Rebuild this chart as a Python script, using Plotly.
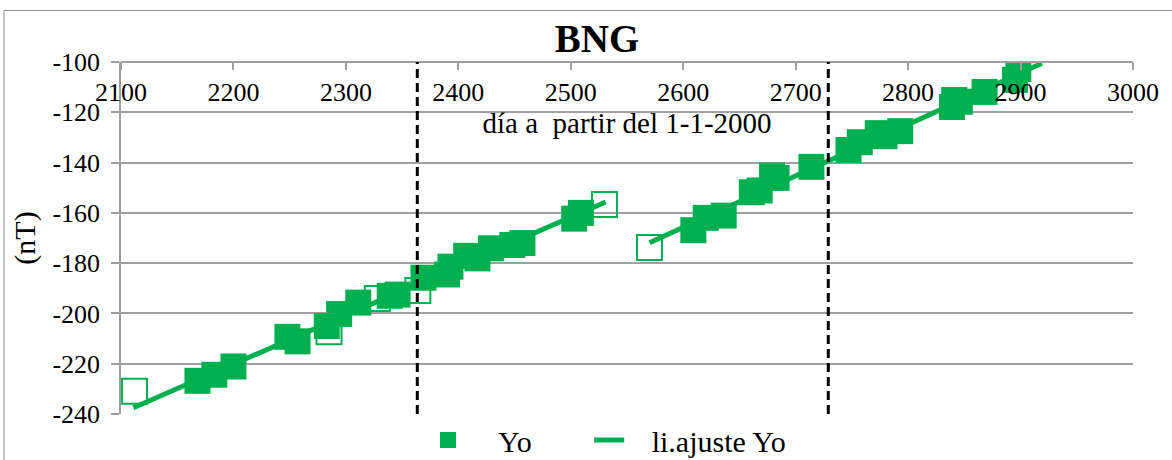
import plotly.graph_objects as go

# Observed values "Yo" (filled squares)
yo_day = [2168, 2183, 2200, 2248, 2257, 2283, 2294, 2311, 2339, 2346,
          2369, 2390, 2393, 2407, 2417, 2429, 2448, 2457, 2503, 2509,
          2609, 2620, 2636, 2661, 2668, 2679, 2683, 2714, 2747, 2757,
          2773, 2779, 2793, 2839, 2841, 2846, 2868, 2895, 2898]
yo_nt = [-226.8, -224.4, -221.1, -209.3, -211.1, -205.0, -200.2, -195.7, -193.0, -192.5,
         -185.8, -184.5, -181.4, -177.1, -178.1, -174.1, -172.8, -172.0, -162.3, -160.0,
         -166.9, -162.0, -161.1, -151.8, -151.1, -145.2, -146.1, -141.7, -135.0, -131.9,
         -128.3, -129.5, -127.5, -117.9, -115.1, -115.8, -111.9, -107.1, -102.8]

# Rejected values (hollow squares)
out_day = [2112, 2285, 2328, 2364, 2530, 2570]
out_nt = [-231.0, -207.3, -194.1, -190.9, -156.7, -173.8]

# Fitted line "li.ajuste Yo" (two segments)
fit_day = [2111, 2531, None, 2570, 2919]
fit_nt = [-237.5, -155.7, None, -171.9, -100.5]

# Vertical dashed break lines (days)
breaks = [2363.5, 2729]

x_ticks = [2100, 2200, 2300, 2400, 2500, 2600, 2700, 2800, 2900, 3000]
x_labels = ["2100", "2200", "2300", "2400", "2500", "2600", "2700", "2800", "2900", "3000"]
y_ticks = [-100, -120, -140, -160, -180, -200, -220, -240]
y_labels = ["-100", "-120", "-140", "-160", "-180", "-200", "-220", "-240"]

GREEN = "#00B050"
GRID = "#A0A0A0"
FONT = "Liberation Serif"
NB = "\u00a0"

fig = go.Figure()

fig.add_trace(go.Scatter(
    x=out_day, y=out_nt, mode="markers", showlegend=False,
    marker=dict(symbol="square-open", size=25, color=GREEN, line=dict(width=2, color=GREEN)),
))
fig.add_trace(go.Scatter(
    x=yo_day, y=yo_nt, mode="markers", name=NB * 4 + "Yo" + NB * 7,
    marker=dict(symbol="square", size=26, color=GREEN),
))
fig.add_trace(go.Scatter(
    x=fit_day, y=fit_nt, mode="lines", name=NB * 3 + "li.ajuste Yo",
    line=dict(color=GREEN, width=5), connectgaps=False,
))

for b in breaks:
    fig.add_shape(type="line", xref="x", yref="paper", x0=b, x1=b, y0=0, y1=1,
                  line=dict(color="black", width=3, dash="9px,5px"), layer="above")

# outer chart border
fig.add_shape(type="rect", xref="paper", yref="paper",
              x0=(4 - 121) / 1012, x1=(1190 - 121) / 1012,
              y0=(417 - 480) / 355, y1=1 + (62 - 10) / 355,
              line=dict(color="#8C8C8C", width=1), layer="below")

fig.update_layout(
    width=1172, height=460,
    margin=dict(l=121, r=39, t=62, b=43),
    paper_bgcolor="white", plot_bgcolor="white",
    font=dict(family=FONT, color="black"),
    title=dict(text="<b>BNG</b>", x=597 / 1172, xref="container", xanchor="center",
               y=1 - 38 / 460, yref="container", yanchor="middle",
               font=dict(family=FONT, size=39, color="black")),
    showlegend=True,
    legend=dict(orientation="h", x=(428 - 121) / 1012, xanchor="left",
                y=1 - 440 / 460, yref="container", yanchor="middle",
                font=dict(family=FONT, size=30, color="black"),
                itemwidth=30, bgcolor="rgba(0,0,0,0)"),
    xaxis=dict(range=[2100, 3000], tickvals=x_ticks, ticktext=x_labels,
               side="bottom", anchor="free", position=1.0, automargin=False,
               ticks="outside", ticklen=7, tickcolor=GRID, tickwidth=1.5,
               showgrid=False, zeroline=False,
               showline=True, linecolor=GRID, linewidth=1.5,
               tickfont=dict(family=FONT, size=26, color="black"),
               title=dict(text="día a  partir del 1-1-2000", standoff=2,
                          font=dict(family=FONT, size=29, color="black"))),
    yaxis=dict(range=[-240, -100], tickvals=y_ticks, ticktext=y_labels,
               automargin=False, domain=[0, 1],
               ticks="outside", ticklen=8, tickcolor=GRID, tickwidth=1.5,
               ticklabelstandoff=6,
               showgrid=True, gridcolor=GRID, gridwidth=1.5, zeroline=False,
               showline=True, linecolor=GRID, linewidth=1.5,
               tickfont=dict(family=FONT, size=26, color="black"),
               title=dict(text="(nT)", standoff=8,
                          font=dict(family=FONT, size=30, color="black"))),
)

fig.write_html("out.html", config={"displayModeBar": False},
               post_script="document.body.style.margin='0';")
